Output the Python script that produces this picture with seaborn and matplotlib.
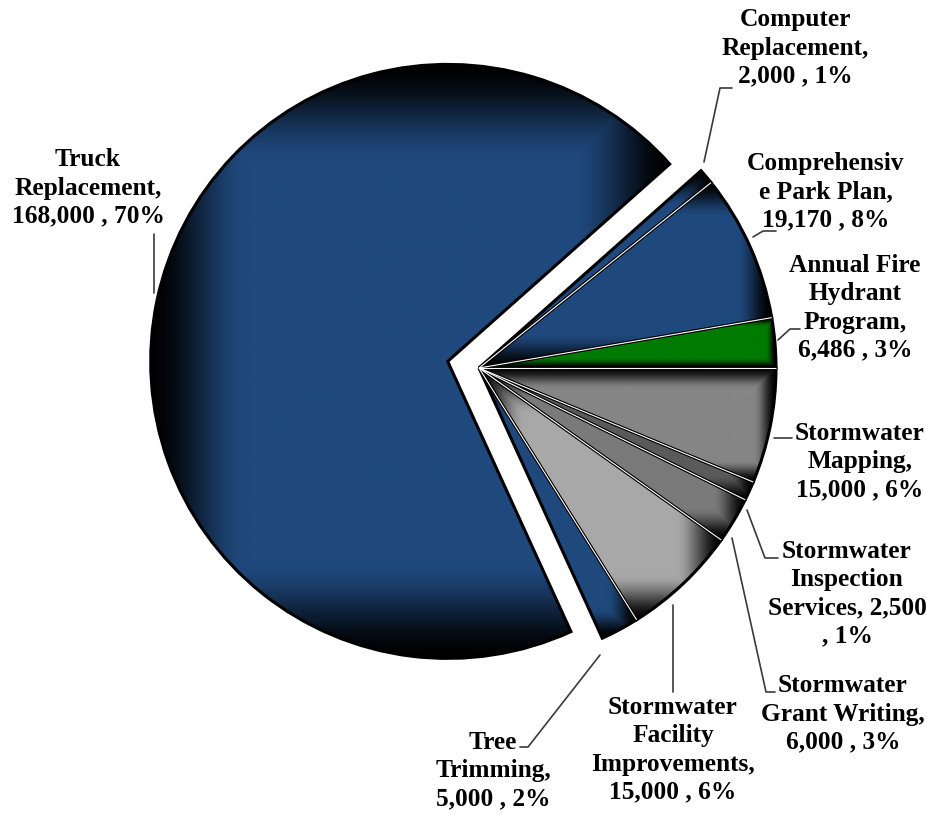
import numpy as np
import matplotlib
matplotlib.use("Agg")
import matplotlib.pyplot as plt
import seaborn as sns
from matplotlib.colors import to_rgb

sns.set_theme(style="white")
plt.rcParams["font.family"] = ["Liberation Serif", "DejaVu Serif"]

# Capital budget items, drawn clockwise from the computer slice
items = ["Computer Replacement", "Comprehensive Park Plan", "Annual Fire Hydrant Program",
         "Stormwater Mapping", "Stormwater Inspection Services", "Stormwater Grant Writing",
         "Stormwater Facility Improvements", "Tree Trimming", "Truck Replacement"]
amounts = [2000, 19170, 6486, 15000, 2500, 6000, 15000, 5000, 168000]
label_templates = [
    "Computer\nReplacement,\n{v} , {p}%",
    "Comprehensiv\ne Park Plan,\n{v} , {p}%",
    "Annual Fire\nHydrant\nProgram,\n{v} , {p}%",
    "Stormwater\nMapping,\n{v} , {p}%",
    "Stormwater\nInspection\nServices, {v}\n, {p}%",
    "Stormwater\nGrant Writing,\n{v} , {p}%",
    "Stormwater\nFacility\nImprovements,\n{v} , {p}%",
    "Tree\nTrimming,\n{v} , {p}%",
    "Truck\nReplacement,\n{v} , {p}%",
]
slice_colors = ["#1F497D", "#1F497D", "#007A00", "#858585", "#5A5A5A",
                "#7A7A7A", "#A8A8A8", "#1F497D", "#1F497D"]

W, H = 928, 814
fig = plt.figure(figsize=(W / 100, H / 100), dpi=100)
ax = fig.add_axes([0, 0, 1, 1])

total = sum(amounts)
start = 360 * sum(amounts[:3]) / total  # hydrant slice ends on the horizontal
center = (479, H - 368)
radius = 297
explode = [0] * 8 + [32]  # pie offsets are in data units here

wedges, _ = ax.pie(amounts, startangle=start, counterclock=False, radius=radius,
                   center=center, explode=explode, colors=slice_colors,
                   wedgeprops=dict(linewidth=2.2, edgecolor="black"))

# bevel shading: each slice darkens towards the edges of its bounding box
for w, col in zip(wedges, slice_colors):
    cx, cy = w.center
    r = w.r
    th = np.radians(np.linspace(w.theta1, w.theta2, 300))
    xs = np.concatenate([[cx], cx + r * np.cos(th)])
    ys = np.concatenate([[cy], cy + r * np.sin(th)])
    x0, x1, y0, y1 = xs.min(), xs.max(), ys.min(), ys.max()
    nx, ny = int(x1 - x0) + 2, int(y1 - y0) + 2
    X, Y = np.meshgrid(np.linspace(x0, x1, nx), np.linspace(y0, y1, ny))
    d = np.minimum.reduce([X - x0, x1 - X, Y - y0, y1 - Y])
    bw = 0.19 * min(x1 - x0, y1 - y0)
    t = np.clip(d / bw, 0, 1)
    s = 0.02 + 0.98 * t * t * (3 - 2 * t)
    rgb = to_rgb(col)
    img = np.dstack([c * s for c in rgb])
    im = ax.imshow(img, extent=(x0, x1, y0, y1), origin="lower",
                   interpolation="bilinear", zorder=1)
    im.set_clip_path(w)
    w.set_facecolor("none")
    w.set_zorder(3)

# thin white separators between the adjacent small slices
ang = start
for v in amounts[:7]:
    ang -= 360 * v / total
    a = np.radians(ang)
    ax.plot([center[0], center[0] + radius * np.cos(a)],
            [center[1], center[1] + radius * np.sin(a)],
            color="white", lw=0.8, zorder=4, solid_capstyle="butt")

# data labels
label_pos = [(795, 48), (826, 192), (855, 308), (860, 462), (847, 594),
             (843, 714), (673, 750), (493, 771), (88, 188)]
for tpl, v, (lx, ly) in zip(label_templates, amounts, label_pos):
    txt = tpl.format(v=f"{v:,}", p=round(100 * v / total))
    ax.text(lx, H - ly, txt, ha="center", va="center", fontsize=18.3,
            fontweight="bold", linespacing=1.28, multialignment="center",
            color="black", zorder=6)

# leader lines
leaders = [
    [(704, 162), (720, 88), (732, 88)],
    [(753, 237), (763, 231), (776, 231)],
    [(778, 340), (790, 329), (800, 329)],
    [(774, 438), (792, 438)],
    [(747, 510), (765, 558), (778, 558)],
    [(732, 538), (766, 692), (775, 692)],
    [(673, 605), (673, 692)],
    [(600, 655), (528, 747), (520, 747)],
    [(154, 293), (154, 234)],
]
for pts in leaders:
    px = [p[0] for p in pts]
    py = [H - p[1] for p in pts]
    ax.plot(px, py, color="#3a3a3a", lw=1.2, zorder=5)

ax.set_aspect("equal")
ax.set_xlim(0, W)
ax.set_ylim(0, H)
ax.axis("off")
fig.savefig("out.png", dpi=100, facecolor="white")
